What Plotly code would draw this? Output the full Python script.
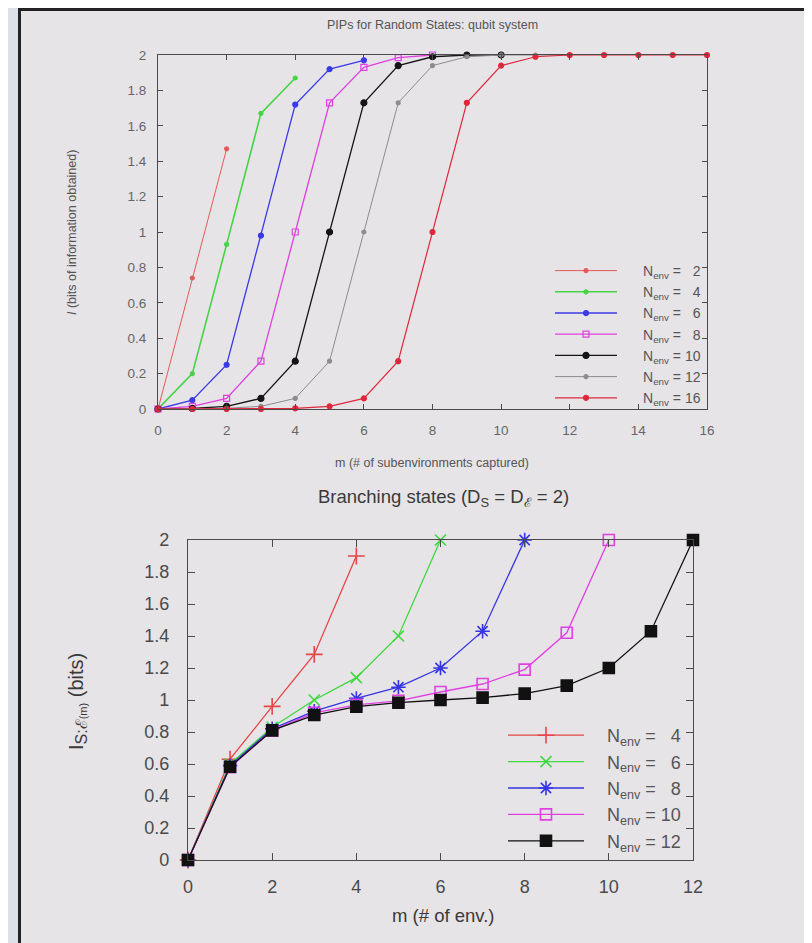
import plotly.graph_objects as go

W, H = 812, 943          # target window
PAD = 8                  # page body margin: the figure starts 8px in from the top-left

# ---------------- data ----------------
# Top panel: PIPs for random states (qubit system)
m_top = list(range(0, 17))
top_n2 = [0, 0.74, 1.47]
top_n4 = [0, 0.20, 0.93, 1.67, 1.87]
top_n6 = [0, 0.05, 0.25, 0.98, 1.72, 1.92, 1.97]
top_n8 = [0, 0.015, 0.06, 0.27, 1.0, 1.73, 1.93, 1.985, 2.0]
top_n10 = [0, 0.003, 0.015, 0.06, 0.27, 1.0, 1.73, 1.94, 1.99, 2.0, 2.0]
top_n12 = [0, 0.001, 0.004, 0.015, 0.06, 0.27, 1.0, 1.73, 1.94, 1.99, 2.0, 2.0, 2.0]
top_n16 = [0, 0, 0, 0, 0.004, 0.015, 0.06, 0.27, 1.0, 1.73, 1.94, 1.99,
           2.0, 2.0, 2.0, 2.0, 2.0]
top_labels = ["2", "4", "6", "8", "10", "12", "16"]

# Bottom panel: branching states
m_bot = list(range(0, 13))
bot_n4 = [0, 0.63, 0.96, 1.285, 1.90]
bot_n6 = [0, 0.60, 0.83, 1.0, 1.14, 1.40, 2.0]
bot_n8 = [0, 0.59, 0.82, 0.93, 1.01, 1.08, 1.20, 1.43, 2.0]
bot_n10 = [0, 0.58, 0.81, 0.92, 0.97, 0.995, 1.05, 1.10, 1.19, 1.42, 2.0]
bot_n12 = [0, 0.583, 0.81, 0.906, 0.958, 0.983, 1.0, 1.015, 1.04, 1.09, 1.20, 1.43, 2.0]
bot_labels = ["4", "6", "8", "10", "12"]

# ---------------- helpers (window pixels -> paper fractions) ----------------
def fx(px):
    return (px - PAD) / W

def fy(py):
    return 1 - (py - PAD) / H

BG = "#e6e4e7"
FONT = "Liberation Sans, Arial, sans-serif"

fig = go.Figure()

top_series = [top_n2, top_n4, top_n6, top_n8, top_n10, top_n12, top_n16]
top_colors = ["#e35a5a", "#45d445", "#3a3ae6", "#e040e0", "#151515", "#8c8c8c", "#e0283c"]
top_widths = [1, 1.6, 1.3, 1.3, 1.3, 1, 1.2]
top_msize = [4, 4, 5, 6, 6, 4, 5]
top_symbols = ["circle", "circle", "circle", "square-open", "circle", "circle", "circle"]

def nlabel(n, lead):
    pad = "\u2007" if len(n) == 1 else ""
    return lead + "N<sub>env</sub> = " + pad + n

for vals, col, lw, ms, sym, lab in zip(top_series, top_colors, top_widths,
                                      top_msize, top_symbols, top_labels):
    fig.add_trace(go.Scatter(
        x=m_top[:len(vals)], y=vals, xaxis="x", yaxis="y", legend="legend",
        mode="lines+markers", name=nlabel(lab, "\u2003\u2002"),
        line=dict(color=col, width=lw),
        marker=dict(color=col, size=ms, symbol=sym, line=dict(color=col, width=1.2)),
        cliponaxis=False,
    ))

bot_series = [bot_n4, bot_n6, bot_n8, bot_n10, bot_n12]
bot_colors = ["#e64646", "#3ed83e", "#3535e2", "#e040e0", "#111111"]
bot_symbols = ["cross-thin", "x-thin", "asterisk", "square-open", "square"]
bot_msize = [12, 11, 12, 11, 11]
for vals, col, sym, ms, lab in zip(bot_series, bot_colors, bot_symbols, bot_msize, bot_labels):
    fig.add_trace(go.Scatter(
        x=m_bot[:len(vals)], y=vals, xaxis="x2", yaxis="y2", legend="legend2",
        mode="lines+markers", name=nlabel(lab, "\u2003"),
        line=dict(color=col, width=1.3),
        marker=dict(color=col, size=ms, symbol=sym, line=dict(color=col, width=1.6)),
        cliponaxis=False,
    ))

axis_common = dict(showgrid=False, zeroline=False, showline=True, ticks="inside",
                   mirror="ticks", linecolor="#4a4a4a", tickcolor="#4a4a4a",
                   linewidth=1.2, fixedrange=True, automargin=False)

fig.update_layout(
    width=W, height=H,
    margin=dict(l=0, r=0, t=0, b=0, pad=0, autoexpand=False),
    paper_bgcolor=BG, plot_bgcolor=BG,
    font=dict(family=FONT, color="#444"),
    xaxis=dict(domain=[fx(158), fx(707)], range=[0, 16], dtick=2, anchor="y",
               ticklen=5, tickfont=dict(size=13.5, color="#666"), ticklabelstandoff=9,
               **axis_common),
    yaxis=dict(domain=[fy(409), fy(55)], range=[0, 2], dtick=0.2, anchor="x",
               ticklen=5, tickfont=dict(size=13.5, color="#666"), ticklabelstandoff=8,
               tickformat="~g", **axis_common),
    xaxis2=dict(domain=[fx(188), fx(693)], range=[0, 12], dtick=2, anchor="y2",
                ticklen=7, tickfont=dict(size=18, color="#4a4a4a"), ticklabelstandoff=10,
                **axis_common),
    yaxis2=dict(domain=[fy(860), fy(540)], range=[0, 2], dtick=0.2, anchor="x2",
                ticklen=7, tickfont=dict(size=18, color="#4a4a4a"), ticklabelstandoff=14,
                tickformat="~g", **axis_common),
    legend=dict(x=fx(706), y=fy(255), xanchor="right", yanchor="top",
                bgcolor="rgba(0,0,0,0)", font=dict(size=14, color="#555"),
                tracegroupgap=0, itemwidth=62),
    legend2=dict(x=fx(686), y=fy(717), xanchor="right", yanchor="top",
                 bgcolor="rgba(0,0,0,0)", font=dict(size=18, color="#555"),
                 tracegroupgap=0, itemwidth=76),
    showlegend=True,
)

annotations = [
    dict(text="PIPs for Random States: qubit system", x=fx(432), y=fy(25),
         font=dict(size=12.5, color="#555")),
    dict(text="m (# of subenvironments captured)", x=fx(432), y=fy(463),
         font=dict(size=12.5, color="#555")),
    dict(text="<i>I</i> (bits of information obtained)", x=fx(72), y=fy(233),
         textangle=-90, font=dict(size=12.5, color="#555")),
    dict(text="Branching states (D<sub>S</sub> = D<sub>ℰ</sub> = 2)", x=fx(443), y=fy(498),
         font=dict(size=18.5, color="#3a3a3a")),
    dict(text="m (# of env.)", x=fx(443), y=fy(915),
         font=dict(size=18.5, color="#3a3a3a")),
    dict(text="I<sub><span style='font-size:16px'>S:ℰ</span>"
              "<span style='font-size:11px'>(m)</span></sub> (bits)",
         x=fx(77), y=fy(702), textangle=-90, font=dict(size=20, color="#3a3a3a")),
]
fig.update_layout(annotations=[dict(a, xref="paper", yref="paper", showarrow=False,
                                    xanchor="center", yanchor="middle")
                               for a in annotations])

shapes = [
    dict(type="rect", x0=0, x1=fx(18), y0=0, y1=1, fillcolor="#dde0e8", line=dict(width=0)),
    dict(type="line", x0=fx(19.5), x1=fx(19.5), y0=0, y1=1, line=dict(color="#222", width=3)),
    dict(type="line", x0=fx(18), x1=1, y0=fy(9.5), y1=fy(9.5), line=dict(color="#222", width=3)),
]
fig.update_layout(shapes=[dict(s, xref="paper", yref="paper", layer="below") for s in shapes])

fig.write_html("out.html")
